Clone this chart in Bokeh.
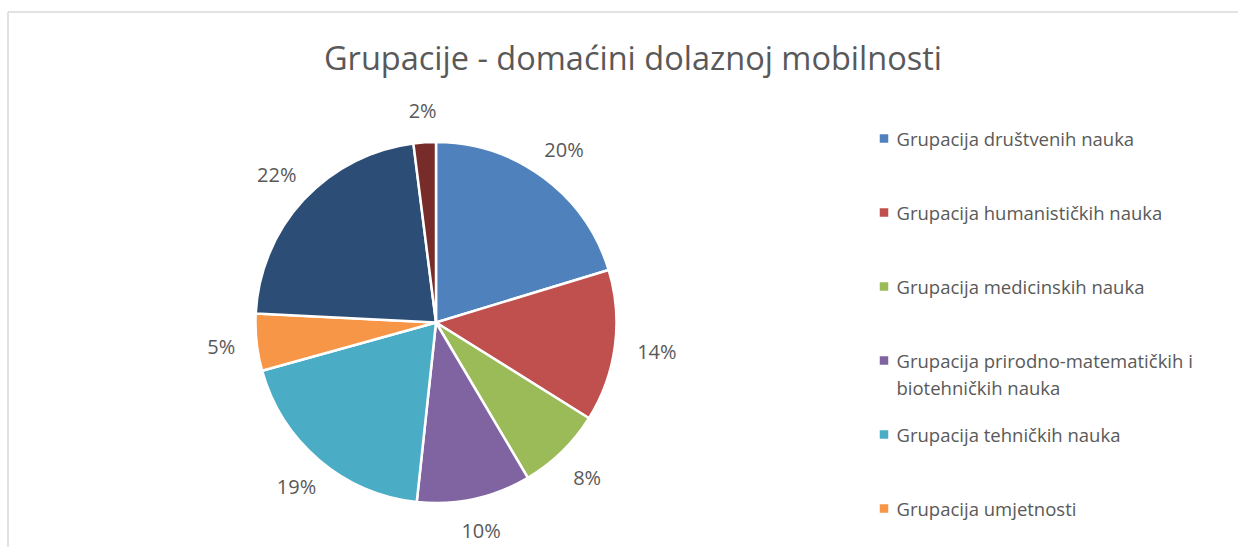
import math
import textwrap
from bokeh.plotting import figure
from bokeh.models import Range1d, ColumnDataSource
from bokeh.core.properties import value
from bokeh.embed import file_html
from bokeh.resources import INLINE

title = "Grupacije - domaćini dolaznoj mobilnosti"
categories = [
    "Grupacija društvenih nauka",
    "Grupacija humanističkih nauka",
    "Grupacija medicinskih nauka",
    "Grupacija prirodno-matematičkih i biotehničkih nauka",
    "Grupacija tehničkih nauka",
    "Grupacija umjetnosti",
    "Grupacija (7)",
    "Grupacija (8)",
]
shares = [20.3, 13.6, 7.6, 10.2, 19.0, 5.1, 22.2, 2.0]
colors = ["#4F81BD", "#C0504D", "#9BBB59", "#8064A2", "#4BACC6", "#F79646", "#2C4D75", "#772C2A"]
legend_count = 6  # entries visible in the reference

W, H = 1238, 547
FONT = value("Open Sans")
TXT = "#595959"

p = figure(width=W, height=H, output_backend="svg", toolbar_location=None,
           x_range=Range1d(0, W), y_range=Range1d(0, H), min_border=0)
p.axis.visible = False
p.grid.visible = False
p.outline_line_color = None
p.background_fill_color = "white"
p.border_fill_color = "white"

# chart border (top and left visible)
bx, by = 7.5, H - 11.5
p.line(x=[bx, bx], y=[0, by], line_color="#D9D9D9", line_width=1.5)
p.line(x=[bx, W], y=[by, by], line_color="#D9D9D9", line_width=1.5)

cx, cy, r = 435.5, H - 322, 180.5
total = sum(shares)
starts, ends, mids = [], [], []
cum = 0.0
for s in shares:
    a0 = math.pi / 2 - 2 * math.pi * (cum + s) / total
    a1 = math.pi / 2 - 2 * math.pi * cum / total
    starts.append(a0)
    ends.append(a1)
    mids.append((a0 + a1) / 2)
    cum += s

src = ColumnDataSource(dict(start=starts, end=ends, color=colors))
p.wedge(x=cx, y=cy, radius=r, start_angle="start", end_angle="end", fill_color="color",
        line_color="white", line_width=2.5, source=src)

# data labels, placed outside the pie with a gap from the label's box edge
labels = [f"{round(s / total * 100)}%" for s in shares]
gap = 22
lx, ly = [], []
for m, lab in zip(mids, labels):
    hw, hh = len(lab) * 6.7, 10
    c, s_ = abs(math.cos(m)), abs(math.sin(m))
    ext = min(hw / c if c > 1e-6 else 1e9, hh / s_ if s_ > 1e-6 else 1e9)
    d = r + gap + ext
    lx.append(cx + d * math.cos(m))
    ly.append(cy + d * math.sin(m))
p.text(x=lx, y=ly, text=labels, text_font=FONT, text_font_size="20px", text_color=TXT,
       text_align="center", text_baseline="middle")

# title
p.text(x=[632.5], y=[H - 57], text=[title], text_font=FONT, text_font_size="32.5px",
       text_color=TXT, text_align="center", text_baseline="middle")

# legend
lg_x, lg_y0, lg_step, line_h = 883.5, H - 138, 74, 27
sq_x, sq_y, sq_c = [], [], []
tx, ty, tt = [], [], []
for i in range(legend_count):
    yy = lg_y0 - i * lg_step
    sq_x.append(lg_x)
    sq_y.append(yy)
    sq_c.append(colors[i])
    for j, line in enumerate(textwrap.wrap(categories[i], 34)):
        tx.append(lg_x + 12.5)
        ty.append(yy - j * line_h)
        tt.append(line)
p.rect(x=sq_x, y=sq_y, width=8.5, height=8.5, fill_color=sq_c, line_color=None)
p.text(x=tx, y=ty, text=tt, text_font=FONT, text_font_size="18.5px", text_color=TXT,
       text_align="left", text_baseline="middle")

open("out.html", "w").write(file_html(p, INLINE))
